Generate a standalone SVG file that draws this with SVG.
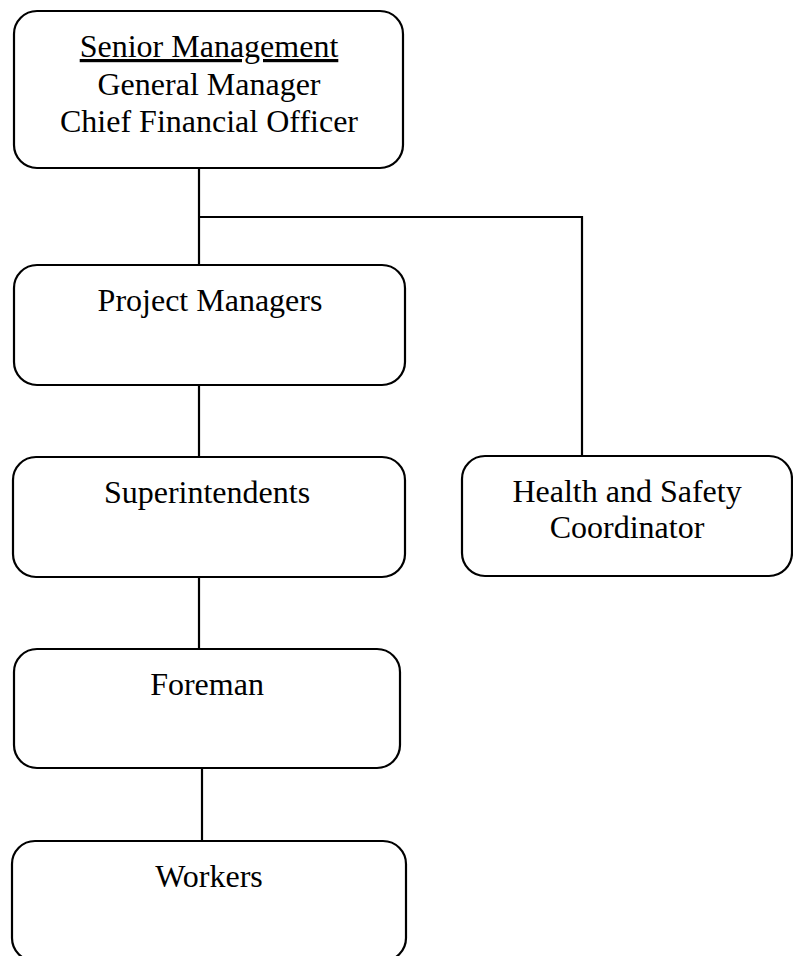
<svg xmlns="http://www.w3.org/2000/svg" width="793" height="956" viewBox="0 0 793 956">
<style>
.box{fill:#fff;stroke:#000;stroke-width:2.2}
.lbl{font-family:"Liberation Serif","Times New Roman",serif;font-size:32px;fill:#000;text-anchor:middle}
.conn{stroke:#000;stroke-width:2.2;fill:none}
</style>
<rect width="793" height="956" fill="#fff"/>
<g id="connectors">
<path class="conn" d="M199,168 V265"/>
<path class="conn" d="M199,217 H582 V456"/>
<path class="conn" d="M199,385 V457"/>
<path class="conn" d="M199,577 V649"/>
<path class="conn" d="M202,768 V841"/>
</g>
<g id="senior-management">
<rect class="box" x="14" y="11" width="389" height="157" rx="23"/>
<text class="lbl" x="209" y="57" text-decoration="underline">Senior Management</text>
<text class="lbl" x="209" y="95">General Manager</text>
<text class="lbl" x="209" y="132">Chief Financial Officer</text>
</g>
<g id="project-managers">
<rect class="box" x="14" y="265" width="391" height="120" rx="23"/>
<text class="lbl" x="210" y="311">Project Managers</text>
</g>
<g id="superintendents">
<rect class="box" x="13" y="457" width="392" height="120" rx="23"/>
<text class="lbl" x="207" y="503">Superintendents</text>
</g>
<g id="health-safety">
<rect class="box" x="462" y="456" width="330" height="120" rx="23"/>
<text class="lbl" x="627" y="502">Health and Safety</text>
<text class="lbl" x="627" y="538">Coordinator</text>
</g>
<g id="foreman">
<rect class="box" x="14" y="649" width="386" height="119" rx="23"/>
<text class="lbl" x="207" y="695">Foreman</text>
</g>
<g id="workers">
<rect class="box" x="12" y="841" width="394" height="120" rx="23"/>
<text class="lbl" x="209" y="887">Workers</text>
</g>
</svg>
